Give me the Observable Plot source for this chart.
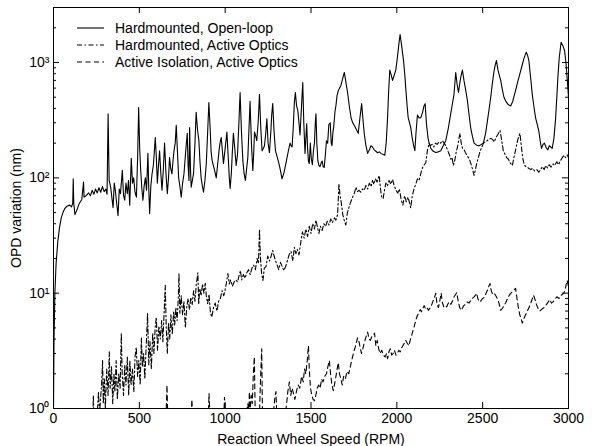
<!DOCTYPE html>
<html><head><meta charset="utf-8">
<script src="https://cdn.jsdelivr.net/npm/d3@7"></script>
<script src="https://cdn.jsdelivr.net/npm/@observablehq/plot@0.6"></script>
<style>
body{margin:0;background:#fff;}
#wrap{position:relative;width:593px;height:446px;font-family:"Liberation Sans",Arial,Helvetica,sans-serif;}
#legend{position:absolute;left:77px;top:19px;font-size:14px;color:#000;}
#legend div{display:flex;align-items:center;height:17px;white-space:nowrap}
#legend svg{width:27px;height:10px;margin-right:11px}
</style></head><body><div id="wrap"><div id="chart"></div><div id="legend"></div></div>
<script>
// ---- data (rpm, OPD nm) ----
const seriesNames = ["Hardmounted, Open-loop", "Hardmounted, Active Optics", "Active Isolation, Active Optics"];
const xTicks = [0, 500, 1000, 1500, 2000, 2500, 3000];
const yMajor = [1, 10, 100, 1000];
const yTickLabels = ["10\u2070", "10\u00B9", "10\u00B2", "10\u00B3"];
const yMinor = [2,3,4,5,6,7,8,9,20,30,40,50,60,70,80,90,200,300,400,500,600,700,800,900,2000,3000];

const openLoop = [[0,1],[3,4],[8,10],[15,18],[25,28],[35,37],[45,45],[55,50],[65,54],[80,57],[95,58],[105,56],[112,60],[115,98],[118,60],[125,48],[135,52],[150,60],[165,65],[175,92],[178,68],[190,70],[205,74],[215,70],[225,78],[235,72],[245,80],[255,74],[265,82],[275,75],[285,84],[295,76],[305,80],[312,72],[318,360],[324,95],[333,83],[347,55],[354,90],[360,78],[368,60],[376,47],[383,80],[390,73],[401,116],[408,70],[415,64],[422,90],[430,73],[437,95],[444,58],[453,148],[460,90],[467,100],[475,75],[483,68],[490,150],[496,408],[502,180],[508,116],[515,80],[521,64],[528,85],[535,100],[542,78],[550,163],[555,80],[560,49],[567,85],[574,108],[582,130],[593,224],[599,150],[605,90],[612,130],[618,172],[625,110],[632,78],[640,120],[647,200],[655,110],[663,73],[670,100],[676,150],[683,120],[690,108],[696,140],[702,172],[709,200],[715,285],[722,170],[729,100],[736,85],[744,68],[752,90],[760,108],[770,170],[779,243],[784,130],[789,95],[793,273],[798,120],[802,83],[809,95],[816,110],[824,200],[831,370],[839,260],[847,210],[853,140],[860,100],[867,85],[874,75],[882,95],[890,133],[898,250],[905,450],[912,280],[918,170],[924,141],[936,120],[948,100],[956,130],[964,170],[970,200],[977,224],[984,170],[990,133],[1000,180],[1010,250],[1018,150],[1024,100],[1029,81],[1036,110],[1042,170],[1048,243],[1056,180],[1064,128],[1072,160],[1080,300],[1087,550],[1095,250],[1103,141],[1110,110],[1118,95],[1125,120],[1132,150],[1138,250],[1145,460],[1153,200],[1161,116],[1166,160],[1171,250],[1178,230],[1184,210],[1192,300],[1200,530],[1207,280],[1215,172],[1222,180],[1229,190],[1236,240],[1243,325],[1250,200],[1258,165],[1266,250],[1271,350],[1277,440],[1285,250],[1293,172],[1304,150],[1316,128],[1325,110],[1331,98],[1342,110],[1355,136],[1366,165],[1378,200],[1384,190],[1390,185],[1397,280],[1403,450],[1409,550],[1416,420],[1423,385],[1430,300],[1436,235],[1442,350],[1448,520],[1452,670],[1458,300],[1465,163],[1470,220],[1475,295],[1480,180],[1485,140],[1490,133],[1496,200],[1502,145],[1508,130],[1514,170],[1520,200],[1525,300],[1529,360],[1534,200],[1540,140],[1546,128],[1552,125],[1558,133],[1565,140],[1571,125],[1577,123],[1584,160],[1590,210],[1597,200],[1604,290],[1612,300],[1618,200],[1622,190],[1628,250],[1632,273],[1640,380],[1645,420],[1652,520],[1659,570],[1666,600],[1674,630],[1684,720],[1694,820],[1703,680],[1713,550],[1723,420],[1733,333],[1743,300],[1752,285],[1763,265],[1775,243],[1785,330],[1795,440],[1802,330],[1810,243],[1820,190],[1830,163],[1840,175],[1849,190],[1858,185],[1868,175],[1878,170],[1888,165],[1898,168],[1907,163],[1918,160],[1930,157],[1938,200],[1946,333],[1952,550],[1959,860],[1967,780],[1975,700],[1985,780],[1994,860],[2003,1100],[2012,1450],[2019,1750],[2028,1400],[2039,1040],[2046,800],[2052,600],[2060,420],[2066,333],[2074,300],[2081,273],[2090,220],[2098,190],[2105,172],[2112,250],[2120,350],[2130,330],[2140,333],[2150,370],[2158,420],[2165,440],[2172,300],[2182,220],[2190,195],[2198,180],[2212,170],[2227,166],[2242,168],[2256,172],[2270,190],[2285,210],[2300,270],[2314,360],[2325,450],[2333,530],[2343,820],[2351,650],[2359,550],[2366,650],[2372,740],[2382,860],[2391,700],[2401,580],[2411,470],[2420,360],[2430,273],[2440,230],[2450,200],[2465,192],[2479,190],[2492,195],[2504,200],[2517,243],[2530,330],[2540,420],[2547,500],[2556,650],[2565,820],[2573,950],[2580,1040],[2590,850],[2605,700],[2615,580],[2624,500],[2635,460],[2650,430],[2663,420],[2675,460],[2690,560],[2702,660],[2715,780],[2727,910],[2740,1080],[2754,1230],[2762,1150],[2769,1040],[2779,750],[2789,530],[2798,420],[2808,333],[2818,290],[2827,256],[2835,210],[2843,180],[2852,195],[2860,200],[2868,185],[2875,178],[2880,175],[2888,190],[2897,185],[2905,180],[2915,220],[2924,315],[2932,500],[2938,740],[2946,1100],[2957,1500],[2967,1400],[2977,1270],[2985,1000],[2992,740],[3000,500]];

const hardActive = [[0,0.3],[200,0.5],[228,0.7],[232,1.3],[236,0.8],[255,0.9],[262,1.4],[268,0.9],[280,1.6],[286,2.6],[290,1.1],[296,1.8],[302,1.0],[310,2.2],[318,1.3],[325,3.1],[330,1.5],[338,2.3],[345,1.1],[352,2.0],[358,1.4],[365,2.6],[372,1.2],[380,2.0],[388,1.5],[395,4.5],[400,2.0],[408,1.3],[415,2.4],[422,1.6],[430,2.8],[438,1.3],[445,2.6],[452,1.6],[460,2.2],[468,1.4],[475,2.8],[482,3.4],[490,1.9],[497,2.6],[505,1.6],[512,4.1],[518,2.3],[525,3.0],[532,1.8],[540,3.5],[548,6.7],[555,2.4],[562,3.8],[570,2.2],[578,4.5],[585,3.0],[592,5.0],[599,6.2],[606,3.2],[614,5.2],[622,4.0],[630,5.8],[637,3.8],[644,6.5],[651,11.7],[657,5.0],[663,3.0],[670,5.5],[677,4.0],[684,6.5],[692,4.4],[700,7.0],[706,5.3],[713,7.5],[720,5.8],[727,9.0],[731,14.8],[736,6.7],[744,9.5],[752,6.5],[760,8.5],[768,5.0],[776,7.5],[784,9.0],[792,7.2],[800,9.2],[808,8.0],[816,10.5],[824,8.5],[832,12.0],[841,15.0],[846,8.0],[852,11.0],[860,9.5],[868,12.0],[876,10.0],[884,12.2],[890,9.5],[898,8.1],[906,9.8],[914,6.8],[922,6.2],[932,7.5],[942,8.2],[952,7.0],[962,8.5],[972,9.0],[982,10.5],[992,9.5],[1004,11.5],[1016,14.8],[1024,12.0],[1032,13.0],[1042,11.5],[1052,12.5],[1062,13.0],[1072,12.5],[1080,14.0],[1089,15.7],[1096,13.0],[1106,14.5],[1116,13.5],[1126,15.0],[1136,16.0],[1146,14.5],[1156,16.5],[1166,17.5],[1176,16.0],[1186,20.0],[1194,18.0],[1200,36.0],[1205,21.0],[1212,15.0],[1220,12.9],[1228,16.5],[1238,17.0],[1248,21.0],[1258,19.0],[1268,21.0],[1277,23.5],[1285,21.0],[1294,19.0],[1303,17.5],[1312,16.0],[1322,18.5],[1332,17.0],[1342,15.7],[1352,17.0],[1362,19.0],[1372,21.5],[1384,23.0],[1394,19.0],[1403,25.0],[1412,22.0],[1420,24.0],[1430,21.5],[1442,28.6],[1450,34],[1460,30],[1470,36],[1480,31],[1490,38],[1500,33],[1510,40],[1520,36],[1529,43],[1538,37],[1546,33],[1555,38],[1565,35],[1575,40],[1585,38],[1595,42],[1605,39],[1615,44],[1625,41],[1636,45],[1645,43],[1655,48],[1663,89],[1669,70],[1675,63],[1685,48],[1695,42],[1703,39],[1712,50],[1722,56],[1732,62],[1742,68],[1752,73],[1762,83],[1770,76],[1780,78],[1790,75],[1800,80],[1810,78],[1820,86],[1830,80],[1840,90],[1850,84],[1858,95],[1866,88],[1875,98],[1885,92],[1897,105],[1905,80],[1912,68],[1920,66],[1928,78],[1936,90],[1945,85],[1955,95],[1965,88],[1975,97],[1985,85],[1995,78],[2005,74],[2015,80],[2025,65],[2035,58],[2045,70],[2055,62],[2065,68],[2075,60],[2081,55],[2090,70],[2100,80],[2110,88],[2120,98],[2130,95],[2140,110],[2150,123],[2160,130],[2169,136],[2178,172],[2188,200],[2196,190],[2205,195],[2215,185],[2225,200],[2235,195],[2245,205],[2255,200],[2266,210],[2275,200],[2285,190],[2295,175],[2305,160],[2315,145],[2322,150],[2329,128],[2337,140],[2345,165],[2355,190],[2362,220],[2368,243],[2375,200],[2383,180],[2392,175],[2400,165],[2410,155],[2420,148],[2430,135],[2440,120],[2450,105],[2458,118],[2466,135],[2475,150],[2485,170],[2495,185],[2505,200],[2515,205],[2525,210],[2535,215],[2547,220],[2558,215],[2568,205],[2578,225],[2590,240],[2601,258],[2610,215],[2620,172],[2630,160],[2640,150],[2650,145],[2660,135],[2673,128],[2682,150],[2692,175],[2700,200],[2708,225],[2717,243],[2725,190],[2733,150],[2742,130],[2752,125],[2762,123],[2772,120],[2782,118],[2792,121],[2802,115],[2815,118],[2827,112],[2838,118],[2848,125],[2858,118],[2868,128],[2878,122],[2888,130],[2898,124],[2910,132],[2920,128],[2932,138],[2942,130],[2952,140],[2962,148],[2973,157],[2982,150],[2992,158],[3000,150]];

const isoActive = [[0,0.6],[640,0.6],[655,0.8],[661,1.6],[666,0.8],[800,0.7],[806,1.2],[812,0.8],[900,0.7],[906,1.35],[912,0.8],[990,0.7],[996,1.25],[1002,0.8],[1060,0.9],[1068,0.8],[1100,0.9],[1120,0.85],[1132,1.1],[1138,0.9],[1141,1.4],[1146,1.0],[1152,1.3],[1158,1.1],[1164,2.0],[1170,2.8],[1175,0.9],[1190,0.7],[1200,0.9],[1206,1.8],[1213,3.3],[1217,0.9],[1250,0.8],[1280,0.9],[1291,1.3],[1296,1.4],[1300,0.9],[1330,0.8],[1345,0.9],[1355,1.0],[1365,1.4],[1374,1.7],[1382,1.3],[1390,1.5],[1398,1.35],[1406,1.2],[1415,1.4],[1425,1.6],[1435,1.5],[1445,1.9],[1455,1.7],[1462,2.2],[1470,2.0],[1478,2.6],[1485,3.5],[1490,2.2],[1497,1.5],[1505,1.3],[1512,1.2],[1520,1.17],[1528,1.3],[1536,1.5],[1545,1.6],[1553,1.5],[1562,1.8],[1570,1.7],[1580,1.9],[1590,2.0],[1598,2.3],[1607,2.6],[1614,2.0],[1622,1.6],[1630,1.43],[1640,1.7],[1650,2.1],[1659,2.5],[1666,2.0],[1674,1.8],[1682,1.6],[1690,1.9],[1700,1.8],[1710,2.1],[1720,2.0],[1733,2.45],[1742,2.8],[1752,3.2],[1762,3.6],[1771,4.1],[1778,3.9],[1786,3.4],[1794,3.0],[1802,3.3],[1812,3.8],[1821,4.2],[1830,4.6],[1838,4.0],[1846,3.9],[1854,4.2],[1862,4.3],[1870,4.5],[1878,3.5],[1886,3.9],[1894,3.3],[1902,3.0],[1912,3.2],[1922,2.9],[1932,2.8],[1940,3.0],[1946,2.7],[1954,3.1],[1962,3.3],[1970,2.9],[1978,3.0],[1986,3.2],[1995,2.9],[2003,3.0],[2012,3.2],[2020,3.1],[2030,3.4],[2040,3.6],[2052,3.9],[2060,3.7],[2070,3.5],[2080,4.0],[2090,4.5],[2097,4.9],[2105,5.4],[2113,6.0],[2120,6.4],[2128,6.8],[2136,7.2],[2144,6.9],[2152,7.4],[2159,7.8],[2168,7.3],[2176,7.5],[2184,7.1],[2192,7.4],[2200,7.7],[2210,8.5],[2218,9.0],[2227,10.0],[2234,8.0],[2242,7.5],[2250,8.5],[2258,10.0],[2266,8.2],[2274,7.6],[2282,7.8],[2290,7.6],[2298,8.1],[2306,8.4],[2315,8.0],[2325,8.6],[2335,9.4],[2343,9.8],[2349,10.1],[2356,8.8],[2364,7.7],[2372,7.1],[2380,7.3],[2390,7.8],[2400,8.0],[2410,8.4],[2420,8.2],[2430,8.6],[2440,9.0],[2450,9.3],[2458,9.6],[2465,10.0],[2472,9.0],[2480,8.4],[2490,8.6],[2500,9.0],[2510,9.2],[2520,10.0],[2530,10.8],[2536,11.5],[2543,12.1],[2550,10.5],[2558,9.8],[2566,10.0],[2575,9.6],[2585,9.0],[2595,8.2],[2605,7.1],[2615,7.4],[2625,7.8],[2635,8.3],[2645,9.0],[2655,9.6],[2665,10.0],[2675,10.4],[2684,10.7],[2692,11.0],[2700,9.0],[2708,7.5],[2716,6.5],[2724,6.0],[2731,5.5],[2740,6.0],[2750,6.5],[2760,7.0],[2770,7.5],[2780,8.2],[2790,9.0],[2797,9.6],[2805,8.8],[2813,8.0],[2822,7.4],[2832,7.0],[2842,7.2],[2852,7.4],[2862,7.6],[2872,8.0],[2882,8.4],[2892,8.8],[2900,8.2],[2910,8.4],[2920,8.8],[2932,9.3],[2945,9.0],[2955,9.5],[2965,9.8],[2973,10.0],[2982,11.0],[2992,12.9],[3000,11.5]];

const dashes = [null, "5,2.5,1.5,2.5", "5,3.5"];

// ---- layout ----
const W = 593, H = 446, mL = 53, mR = 25, mT = 7, mB = 38;
const innerW = W - mL - mR, innerH = H - mT - mB;
const majorLen = 6, minorLen = 3;

// ---- build ----
const toRows = (arr) => arr.map(([x, y]) => ({x, y}));
const seriesData = [openLoop, hardActive, isoActive].map(toRows);
const fmtY = (d) => yTickLabels[yMajor.indexOf(d)];
const fmtX = (d) => String(d);

const lineMarks = seriesData.map((rows, i) =>
  Plot.line(rows, {x: "x", y: "y", stroke: "#000", strokeWidth: 1.1, strokeDasharray: dashes[i], clip: true})
);

// inward MATLAB-style ticks on all four sides
const tickMarks = [
  Plot.tickX(xTicks, {x: (d) => d, stroke: "#000", insetTop: innerH - majorLen}),
  Plot.tickX(xTicks, {x: (d) => d, stroke: "#000", insetBottom: innerH - majorLen}),
  Plot.tickY(yMajor, {y: (d) => d, stroke: "#000", insetRight: innerW - majorLen}),
  Plot.tickY(yMajor, {y: (d) => d, stroke: "#000", insetLeft: innerW - majorLen}),
  Plot.tickY(yMinor, {y: (d) => d, stroke: "#000", insetRight: innerW - minorLen}),
  Plot.tickY(yMinor, {y: (d) => d, stroke: "#000", insetLeft: innerW - minorLen})
];

const chart = Plot.plot({
  width: W,
  height: H,
  marginLeft: mL,
  marginRight: mR,
  marginTop: mT,
  marginBottom: mB,
  style: {fontFamily: '"Liberation Sans", Arial, Helvetica, sans-serif', fontSize: "14px", color: "#000", background: "#fff"},
  x: {domain: [0, 3000]},
  y: {type: "log", domain: [1, 3000]},
  marks: [
    ...lineMarks,
    ...tickMarks,
    Plot.axisX(xTicks, {anchor: "bottom", tickSize: 0, tickPadding: 5, tickFormat: fmtX, label: "Reaction Wheel Speed (RPM)", labelAnchor: "center", labelArrow: "none", labelOffset: 35}),
    Plot.axisY(yMajor, {anchor: "left", tickSize: 0, tickPadding: 4, tickFormat: fmtY, label: "OPD variation (nm)", labelAnchor: "center", labelArrow: "none", labelOffset: 42}),
    Plot.frame({stroke: "#000"})
  ]
});
document.getElementById("chart").appendChild(chart);

// legend (inside plot area, top-left, as in the reference)
const legend = document.getElementById("legend");
seriesNames.forEach((name, i) => {
  const row = document.createElement("div");
  const dash = dashes[i] ? ` stroke-dasharray="${dashes[i]}"` : "";
  row.innerHTML = `<svg viewBox="0 0 27 10"><line x1="0" x2="27" y1="5" y2="5" stroke="#000" stroke-width="1.1"${dash}/></svg><span>${name}</span>`;
  legend.appendChild(row);
});
</script>
</body></html>
